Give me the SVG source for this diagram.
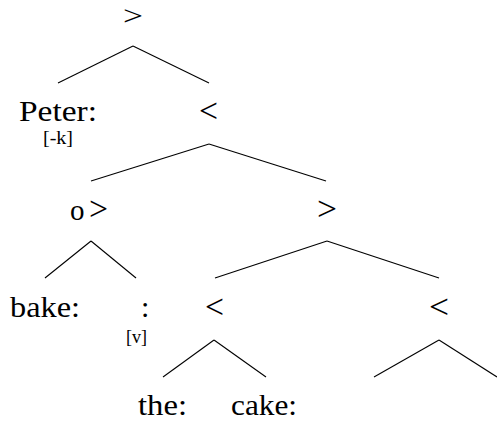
<svg xmlns="http://www.w3.org/2000/svg" width="497" height="424" viewBox="0 0 497 424">
<style>
text{font-family:"Liberation Serif","DejaVu Serif",serif;fill:#000}
.t{font-size:30px}
.s{font-size:18px}
.m{font-size:34px}
.e line{stroke:#000;stroke-width:1.1;fill:none}
</style>
<rect width="497" height="424" fill="#fff"/>
<g class="e" id="connectors">
<line x1="133" y1="46" x2="58" y2="83"/>
<line x1="133" y1="46" x2="209" y2="83"/>
<line x1="209" y1="144" x2="91" y2="181"/>
<line x1="209" y1="144" x2="326" y2="181"/>
<line x1="91" y1="241" x2="45" y2="278"/>
<line x1="91" y1="241" x2="136" y2="278"/>
<line x1="327" y1="241" x2="215" y2="278"/>
<line x1="327" y1="241" x2="439" y2="278"/>
<line x1="214" y1="340" x2="163" y2="377"/>
<line x1="214" y1="340" x2="266" y2="377"/>
<line x1="439" y1="340" x2="374" y2="377"/>
<line x1="439" y1="340" x2="497" y2="377"/>
</g>
<g id="root"><text font-size="28" x="123" y="25" textLength="20" lengthAdjust="spacingAndGlyphs">&gt;</text></g>
<g id="peter"><text class="t" x="19" y="121" textLength="78" lengthAdjust="spacingAndGlyphs">Peter:</text><text class="s" x="43" y="144" textLength="30" lengthAdjust="spacingAndGlyphs">[-k]</text></g>
<g id="lt1"><text class="m" x="199" y="122" textLength="19" lengthAdjust="spacingAndGlyphs">&lt;</text></g>
<g id="ogt"><text font-size="29" x="70" y="220">o</text><text class="m" x="89" y="220" textLength="19" lengthAdjust="spacingAndGlyphs">&gt;</text></g>
<g id="gt2"><text class="m" x="317" y="220" textLength="20" lengthAdjust="spacingAndGlyphs">&gt;</text></g>
<g id="bake"><text class="t" x="10" y="317" textLength="70" lengthAdjust="spacingAndGlyphs">bake:</text></g>
<g id="empty"><text class="t" x="141" y="317">:</text><text class="s" x="126" y="343" textLength="21" lengthAdjust="spacingAndGlyphs">[v]</text></g>
<g id="lt2"><text class="m" x="205" y="318" textLength="19" lengthAdjust="spacingAndGlyphs">&lt;</text></g>
<g id="lt3"><text class="m" x="429" y="318" textLength="20" lengthAdjust="spacingAndGlyphs">&lt;</text></g>
<g id="the"><text class="t" x="138" y="415" textLength="49" lengthAdjust="spacingAndGlyphs">the:</text></g>
<g id="cake"><text class="t" x="231" y="415" textLength="66" lengthAdjust="spacingAndGlyphs">cake:</text></g>
</svg>
